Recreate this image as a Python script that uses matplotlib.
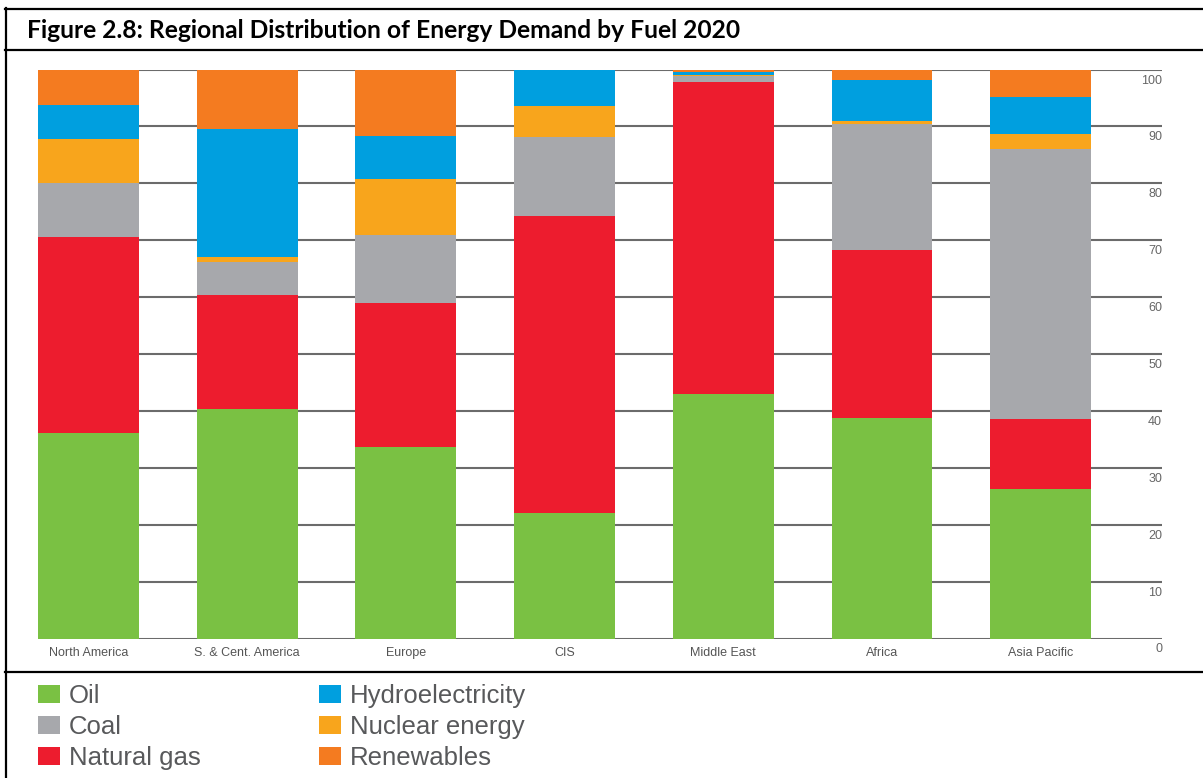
import matplotlib
matplotlib.use("Agg")
import matplotlib.pyplot as plt
from matplotlib.lines import Line2D
from matplotlib.patches import Patch
import numpy as np

regions = ["North America", "S. & Cent. America", "Europe", "CIS",
           "Middle East", "Africa", "Asia Pacific"]
fuels = ["Oil", "Coal", "Natural gas", "Hydroelectricity", "Nuclear energy", "Renewables"]
stack_order = ["Oil", "Natural gas", "Coal", "Nuclear energy", "Hydroelectricity", "Renewables"]

oil = [36.2, 40.4, 33.7, 22.0, 42.9, 38.7, 26.2]
natural_gas = [34.4, 19.9, 25.2, 52.2, 54.9, 29.5, 12.3]
coal = [9.5, 5.8, 12.1, 14.0, 1.0, 22.3, 47.6]
nuclear = [7.6, 0.9, 9.8, 5.3, 0.2, 0.5, 2.5]
hydro = [6.0, 22.5, 7.6, 6.5, 0.6, 7.1, 6.5]
renewables = [6.3, 10.5, 11.6, 0.0, 0.4, 1.9, 4.9]

yticks = [0, 10, 20, 30, 40, 50, 60, 70, 80, 90, 100]

colors = {"Oil": "#7AC143", "Natural gas": "#ED1C2E", "Coal": "#A7A8AC",
          "Nuclear energy": "#F8A51C", "Hydroelectricity": "#009FDF",
          "Renewables": "#F47B20"}
values = {"Oil": oil, "Natural gas": natural_gas, "Coal": coal,
          "Nuclear energy": nuclear, "Hydroelectricity": hydro,
          "Renewables": renewables}

W, H = 1203, 778
fig = plt.figure(figsize=(W / 100, H / 100), dpi=100)
fig.patch.set_facecolor("white")

def fx(px):
    return px / W

def fy(py):
    return 1 - py / H

# plot axes
ax_l, ax_r, ax_t, ax_b = 38, 1162, 69.5, 638.5
ax = fig.add_axes([fx(ax_l), fy(ax_b), fx(ax_r - ax_l), (ax_b - ax_t) / H])
x = np.arange(len(regions))
bw = 0.636
pitch_px = 158.7
ax.set_xlim(-bw / 2, -bw / 2 + (ax_r - ax_l) / pitch_px)
ax.set_ylim(0, 100)

for t in yticks:
    ax.axhline(t, color="#6B6B6B", lw=2.2 if t == 0 else 1.5, zorder=1)

bottom = np.zeros(len(regions))
for f in stack_order:
    v = np.array(values[f])
    ax.bar(x, v, bw, bottom=bottom, color=colors[f], zorder=2, linewidth=0)
    bottom += v

for s in ax.spines.values():
    s.set_visible(False)
ax.set_yticks([])
ax.set_xticks(x)
ax.set_xticklabels(regions, fontsize=9, color="#555555", family="Liberation Sans")
ax.tick_params(axis="x", length=0, pad=6)

shift = matplotlib.transforms.ScaledTranslation(0, -5 / 100, fig.dpi_scale_trans)
for t in yticks:
    ax.text(1.0, t, str(t), transform=ax.get_yaxis_transform() + shift,
            ha="right", va="top", fontsize=9, color="#666666",
            family="Liberation Sans")

# frame lines
lw = 1.6
fig.add_artist(Line2D([fx(5), 1], [fy(8.5), fy(8.5)], color="black", lw=lw))
fig.add_artist(Line2D([fx(5.5), fx(5.5)], [fy(8), 0], color="black", lw=lw))
fig.add_artist(Line2D([fx(5), 1], [fy(49.5), fy(49.5)], color="black", lw=lw))
fig.add_artist(Line2D([fx(5), 1], [fy(671.5), fy(671.5)], color="black", lw=lw))

fig.text(fx(27), fy(30), "Figure 2.8: Regional Distribution of Energy Demand by Fuel 2020",
         ha="left", va="center", fontsize=17.7, fontweight="bold", family="Lato")

handles = [Patch(facecolor=colors[f], edgecolor="none", label=f) for f in fuels]
fs = 18.5
fpx = fs * 100 / 72
leg = fig.legend(handles=handles, loc="upper left", ncol=2,
                 bbox_to_anchor=(fx(38), fy(684)), bbox_transform=fig.transFigure,
                 frameon=False, fontsize=fs, borderpad=0, borderaxespad=0,
                 handlelength=22 / fpx, handleheight=17 / fpx,
                 handletextpad=9 / fpx, labelspacing=0.27,
                 columnspacing=4.61, prop={"family": "Liberation Sans", "size": fs})
for t in leg.get_texts():
    t.set_color("#58595B")

fig.savefig("out.png", dpi=100)
